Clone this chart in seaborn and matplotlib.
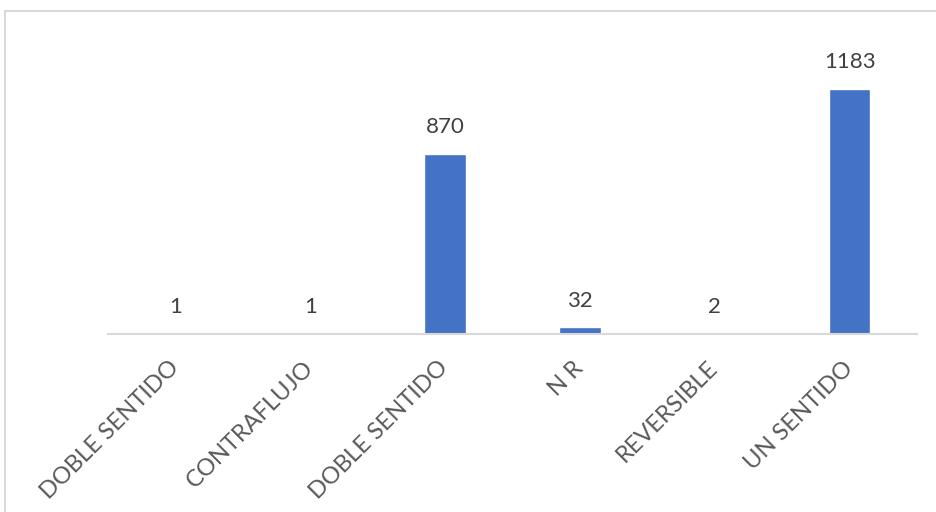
import matplotlib
matplotlib.use("Agg")
import matplotlib.pyplot as plt
from matplotlib.patches import Rectangle
import seaborn as sns
import pandas as pd

# Road direction categories and counts
categories = ["DOBLE SENTIDO", "CONTRAFLUJO", "DOBLE SENTIDO", "N R", "REVERSIBLE", "UN SENTIDO"]
counts = [1, 1, 870, 32, 2, 1183]

df = pd.DataFrame({
    "key": [f"c{i}" for i in range(len(categories))],
    "label": categories,
    "count": counts,
})

sns.set_theme(style="white")
plt.rcParams["font.family"] = ["Lato", "DejaVu Sans"]

fig = plt.figure(figsize=(9.37, 5.12), dpi=100)
ax = fig.add_axes([108 / 937, 1 - 334 / 512, (917 - 108) / 937, (334 - 30) / 512])

sns.barplot(data=df, x="key", y="count", color="#4472C4", width=0.31,
            saturation=1, ax=ax, errorbar=None)

ax.set_xlim(-0.5, len(categories) - 0.5)
ax.set_ylim(0, 1468)
ax.set_xlabel("")
ax.set_ylabel("")
ax.set_yticks([])

ax.set_xticks(range(len(categories)))
ax.set_xticklabels(categories, rotation=45, ha="right", va="center",
                   rotation_mode="anchor", fontsize=17, color="#595959")
ax.tick_params(axis="x", length=0, pad=22)

for side in ["top", "right", "left"]:
    ax.spines[side].set_visible(False)
ax.spines["bottom"].set_color("#d9d9d9")
ax.spines["bottom"].set_linewidth(1.5)

ax.bar_label(ax.containers[0], fmt="%d", padding=12, fontsize=16, color="#404040")

# Chart area frame
fig.patches.append(Rectangle((5 / 937, -0.1), 1.2, 1.1 - 11 / 512,
                             transform=fig.transFigure, fill=False,
                             edgecolor="#d9d9d9", linewidth=1.5))

fig.savefig("out.png", dpi=100)
